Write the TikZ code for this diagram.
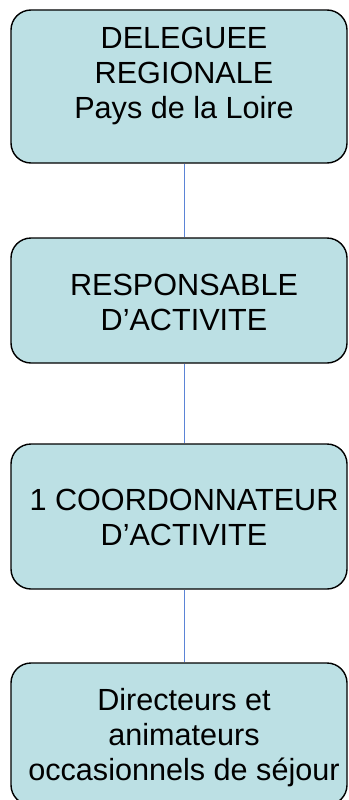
\documentclass[tikz,border=0pt]{standalone}
\usepackage{fontspec}
\setmainfont{Liberation Sans}
\definecolor{boxfill}{RGB}{188,224,228}
\definecolor{linkblue}{RGB}{91,132,214}
\begin{document}
\begin{tikzpicture}[x=1pt,y=-1pt,
  orgbox/.style={draw=black,line width=1.4pt,fill=boxfill,rounded corners=20pt,
    inner sep=0pt,minimum width=336pt},
  orgtext/.style={align=center,anchor=base,inner sep=0pt,
    font=\fontsize{30.6}{35}\selectfont},
  link/.style={draw=linkblue,line width=1pt}]
\useasboundingbox (0,0) rectangle (348,800);
\node[orgbox,minimum height=153pt] (b1) at (179,86.5) {};
\node[orgbox,minimum height=125pt] (b2) at (179,300.5) {};
\node[orgbox,minimum height=145pt] (b3) at (179,516.5) {};
\node[orgbox,minimum height=142pt] (b4) at (179,734) {};
\draw[link] (b1.south -| 184,0) coordinate (c1) -- (b2.north -| c1);
\draw[link] (b2.south -| 184,0) coordinate (c2) -- (b3.north -| c2);
\draw[link] (b3.south -| 184,0) coordinate (c3) -- (b4.north -| c3);
\node[orgtext] (t1) at (184,118) {DELEGUEE\\REGIONALE\\Pays de la Loire};
\node[orgtext] (t2) at (184,330) {RESPONSABLE\\D’ACTIVITE};
\node[orgtext] (t3) at (184,545) {1 COORDONNATEUR\\D’ACTIVITE};
\node[orgtext] (t4) at (184,780) {Directeurs et\\animateurs\\occasionnels de séjour};
\end{tikzpicture}
\end{document}
